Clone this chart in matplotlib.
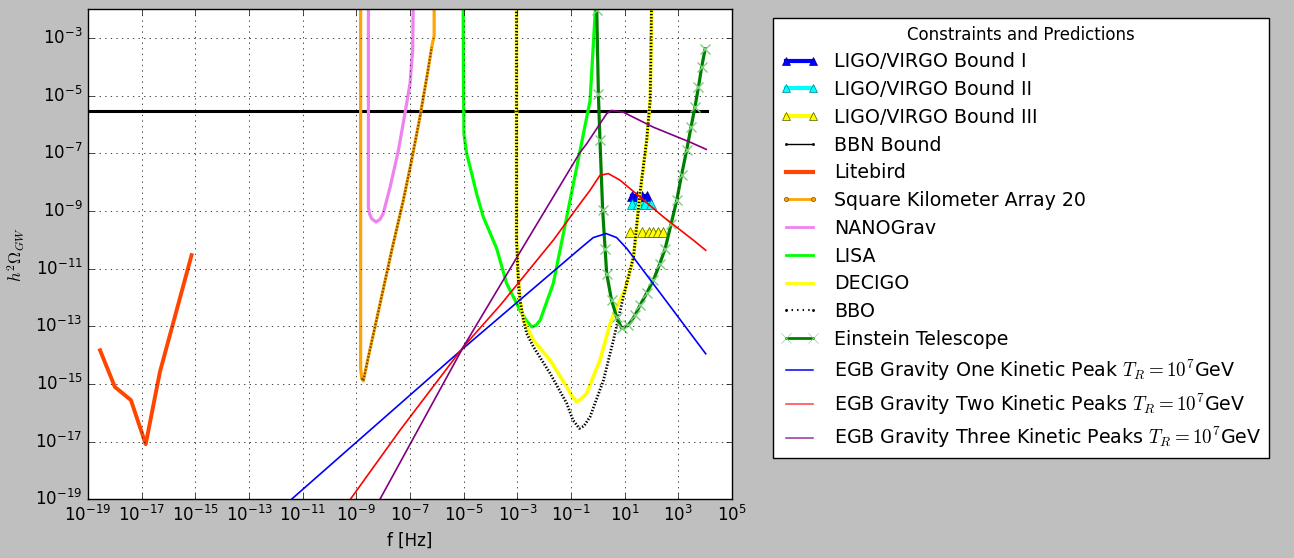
import numpy as np
import matplotlib
matplotlib.use('Agg')
import matplotlib.pyplot as plt
from matplotlib.lines import Line2D
from matplotlib.ticker import FixedLocator, NullLocator

plt.style.use('classic')

# ---- data: log10(f [Hz]) and log10(h^2 Omega_GW) ----
ligo1_lf = [1.26, 1.45, 1.64, 1.82]
ligo1_lo = [-8.49, -8.49, -8.49, -8.49]
ligo2_lf = [1.26, 1.51, 1.76, 2.00]
ligo2_lo = [-8.76, -8.76, -8.76, -8.76]
ligo3_lf = [1.20, 1.64, 1.89, 2.07, 2.26, 2.44]
ligo3_lo = [-9.73, -9.73, -9.73, -9.73, -9.73, -9.73]

bbn_lf = [-19.0, 4.05]
bbn_lo = [-5.53, -5.53]

litebird_lf = [-18.55, -18.0, -17.4, -16.85, -16.32, -15.14]
litebird_lo = [-13.83, -15.1, -15.56, -17.09, -14.58, -10.53]

ska_lf = [-8.84, -8.84, -8.80, -8.74, -8.55, -8.23, -7.68, -7.25, -6.94, -6.63, -6.35, -6.19, -6.10, -6.10]
ska_lo = [-1.0, -14.46, -14.80, -14.89, -14.05, -12.70, -10.36, -8.63, -7.24, -5.74, -4.23, -3.31, -2.91, -1.0]

nano_lf = [-8.55, -8.55, -8.51, -8.43, -8.27, -8.12, -8.00, -7.87, -7.74, -7.43, -7.19, -7.00, -6.90, -6.87]
nano_lo = [-1.0, -8.86, -9.09, -9.26, -9.38, -9.29, -9.09, -8.63, -8.16, -6.89, -5.62, -4.58, -3.42, -1.0]

lisa_lf = [-5.02, -5.01, -4.99, -4.89, -4.76, -4.52, -4.27, -3.77, -3.40, -2.90, -2.68, -2.46, -2.30, -2.15,
           -1.66, -1.41, -0.91, -0.29, -0.03]
lisa_lo = [-1.0, -4.0, -6.31, -7.01, -7.47, -8.39, -9.20, -10.30, -11.51, -12.44, -12.78, -13.02, -12.96, -12.79,
           -11.51, -10.36, -8.05, -5.17, -1.0]

decigo_lf = [-3.03, -3.03, -2.96, -2.90, -2.77, -2.40, -1.78, -1.16, -0.96, -0.79, -0.63, -0.42, 0.08, 0.46, 0.70,
             1.01, 1.33, 1.57, 1.82, 1.95, 1.98, 2.01]
decigo_lo = [-1.0, -10.01, -11.39, -12.09, -12.78, -13.48, -14.17, -15.10, -15.42, -15.62, -15.52, -15.33, -14.17,
             -12.90, -12.32, -11.74, -10.59, -8.39, -6.55, -5.16, -3.43, -1.0]

bbo_lf = [-3.03, -3.03, -2.96, -2.90, -2.77, -2.65, -2.40, -1.78, -1.16, -0.93, -0.69, -0.52, -0.29, 0.21, 0.58,
          0.95, 1.33, 1.57, 1.82, 1.95, 1.98, 2.01]
bbo_lo = [-1.0, -10.01, -11.39, -12.09, -12.78, -13.25, -13.71, -14.63, -15.67, -16.25, -16.54, -16.46, -16.14,
          -14.87, -13.48, -11.98, -10.59, -8.39, -6.55, -5.16, -3.43, -1.0]

et_lf = [-0.05, -0.04, 0.02, 0.08, 0.18, 0.27, 0.33, 0.51, 0.70, 0.89, 1.14, 1.39, 1.57, 1.82, 2.07, 2.30,
         2.51, 2.73, 2.94, 3.12, 3.31, 3.47, 3.62, 3.75, 3.87, 4.00]
et_lo = [-1.0, -2.03, -4.93, -6.55, -8.97, -10.30, -11.17, -12.09, -12.67, -13.07, -12.96, -12.61, -12.27, -11.85,
         -11.40, -10.85, -10.30, -9.45, -8.63, -7.75, -6.89, -6.10, -5.39, -4.70, -4.00, -3.37]

egb1_lf = [-11.6, -9.61, -5.0, -0.66, -0.17, 0.31, 0.70, 1.08, 4.02]
egb1_lo = [-19.15, -17.52, -13.75, -10.30, -9.92, -9.78, -9.92, -10.30, -13.95]

egb2_lf = [-9.30, -7.37, -5.01, -3.64, -1.66, -0.66, -0.29, 0.08, 0.39, 0.83, 1.57, 2.44, 3.56, 4.02]
egb2_lo = [-19.1, -16.60, -13.71, -12.27, -10.01, -8.74, -8.28, -7.76, -7.70, -7.93, -8.51, -9.20, -10.01, -10.36]

egb3_lf = [-8.15, -5.01, -2.82, -0.66, -0.41, 0.08, 0.33, 0.51, 0.95, 2.07, 3.44, 4.04]
egb3_lo = [-19.05, -13.71, -10.30, -6.96, -6.66, -5.97, -5.62, -5.51, -5.57, -6.09, -6.61, -6.86]

labels = ['LIGO/VIRGO Bound I', 'LIGO/VIRGO Bound II', 'LIGO/VIRGO Bound III', 'BBN Bound',
          'Litebird', 'Square Kilometer Array 20', 'NANOGrav', 'LISA', 'DECIGO', 'BBO',
          'Einstein Telescope',
          r'EGB Gravity One Kinetic Peak $T_R=10^7$GeV',
          r'EGB Gravity Two Kinetic Peaks $T_R=10^7$GeV',
          r'EGB Gravity Three Kinetic Peaks $T_R=10^7$GeV']


def p(a):
    return 10.0 ** np.asarray(a, dtype=float)


fig = plt.figure(figsize=(12.94, 5.58), dpi=100, facecolor='0.75')
ax = fig.add_axes([88 / 1294, 1 - 499.3 / 558, (732 - 88) / 1294, (499.3 - 9.3) / 558])
ax.set_xscale('log')
ax.set_yscale('log')

# LIGO bounds
ax.plot(p(ligo1_lf), p(ligo1_lo), color='b', lw=3, marker='^', ms=7, mfc='b', mec='navy')
ax.plot(p(ligo2_lf), p(ligo2_lo), color='cyan', lw=3, marker='^', ms=7, mfc='cyan', mec='teal')
ax.plot(p(ligo3_lf), p(ligo3_lo), color='yellow', lw=3, marker='^', ms=7, mfc='yellow', mec='#555500')
# BBN
ax.plot(p(bbn_lf), p(bbn_lo), color='k', lw=2.2)
# Litebird
ax.plot(p(litebird_lf), p(litebird_lo), color='orangered', lw=2.8)
# SKA
ax.plot(p(ska_lf), p(ska_lo), color='orange', lw=2.3)
ax.plot(p(ska_lf[2:12]), p(ska_lo[2:12]), color='#6b4a10', lw=1.5, ls=(0, (1.2, 1.2)))
# NANOGrav
ax.plot(p(nano_lf), p(nano_lo), color='violet', lw=2.3)
# LISA
ax.plot(p(lisa_lf), p(lisa_lo), color='lime', lw=2.3)
# DECIGO
ax.plot(p(decigo_lf), p(decigo_lo), color='yellow', lw=2.6)
# BBO
ax.plot(p(bbo_lf), p(bbo_lo), color='k', lw=2.0, ls=(0, (1, 1.3)))
# Einstein Telescope
ax.plot(p(et_lf), p(et_lo), color='green', lw=2.3, marker='x', ms=6.5, mec='#7fcf7f', mew=1.0)
# EGB predictions
ax.plot(p(egb1_lf), p(egb1_lo), color='b', lw=1.2)
ax.plot(p(egb2_lf), p(egb2_lo), color='r', lw=1.2)
ax.plot(p(egb3_lf), p(egb3_lo), color='purple', lw=1.2)

ax.set_xlim(1e-19, 1e5)
ax.set_ylim(1e-19, 1e-2)
ax.xaxis.set_major_locator(FixedLocator(p(np.arange(-19, 6, 2))))
ax.yaxis.set_major_locator(FixedLocator(p(np.arange(-19, -2, 2))))
ax.xaxis.set_minor_locator(NullLocator())
ax.yaxis.set_minor_locator(NullLocator())
ax.grid(True)
ax.tick_params(labelsize=12)
ax.set_xlabel('f [Hz]', fontsize=12)
ax.set_ylabel(r'$h^2\Omega_{GW}$', fontsize=12)
ax.yaxis.set_label_coords(-0.094, 0.5)

handles = [
    Line2D([], [], color='b', lw=3, marker='^', ms=6, mfc='b', mec='navy'),
    Line2D([], [], color='cyan', lw=3, marker='^', ms=6, mfc='cyan', mec='teal'),
    Line2D([], [], color='yellow', lw=3, marker='^', ms=6, mfc='yellow', mec='#555500'),
    Line2D([], [], color='k', lw=1, marker='.', ms=3),
    Line2D([], [], color='orangered', lw=3),
    Line2D([], [], color='orange', lw=2, marker='o', ms=3, mfc='orange', mec='#6b4a10'),
    Line2D([], [], color='violet', lw=2),
    Line2D([], [], color='lime', lw=2),
    Line2D([], [], color='yellow', lw=2),
    Line2D([], [], color='k', lw=1.5, ls=':', marker='.', ms=3),
    Line2D([], [], color='green', lw=2, marker='x', ms=7, mec='#8fd88f'),
    Line2D([], [], color='b', lw=1.1),
    Line2D([], [], color='#ff4040', lw=1.1),
    Line2D([], [], color='#993399', lw=1.1),
]
leg = ax.legend(handles, labels, loc='upper left', bbox_to_anchor=(773 / 1294, 1 - 18 / 558),
                bbox_transform=fig.transFigure, borderaxespad=0, fontsize=13.7, numpoints=2,
                title='Constraints and Predictions', labelspacing=0.46, fancybox=False)
leg.get_title().set_fontsize(12)

fig.savefig('out.png', dpi=100, facecolor='0.75')
